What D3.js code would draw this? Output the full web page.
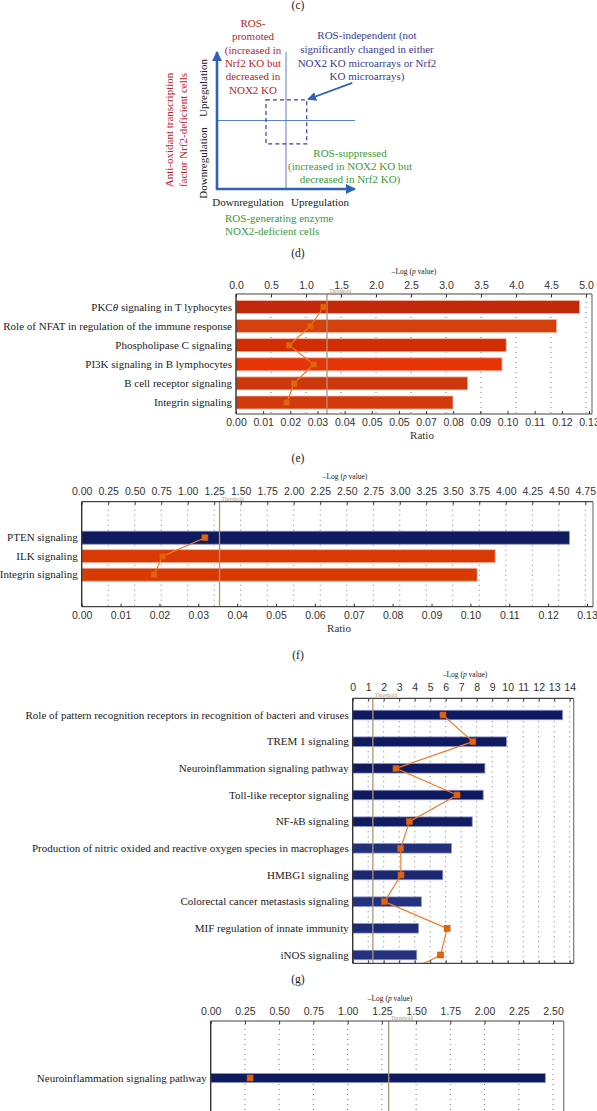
<!DOCTYPE html>
<html><head><meta charset="utf-8">
<script src="https://cdn.jsdelivr.net/npm/d3@7"></script>
<style>body{margin:0;background:#fff}svg{display:block;font-family:"Liberation Serif","DejaVu Serif",serif}</style>
</head><body><svg id="c" width="597" height="1111"></svg>
<script>
// ---------------- DATA ----------------
const threshold = 1.3;

const eCategories = ["PKC_θ_ signaling in T lyphocytes", "Role of NFAT in regulation of the immune response", "Phospholipase C signaling", "PI3K signaling in B lymphocytes", "B cell receptor signaling", "Integrin signaling"];
const eLogP = [4.91, 4.58, 3.86, 3.80, 3.31, 3.10];
const eRatio = [0.0323, 0.0274, 0.0196, 0.0286, 0.0214, 0.0187];
const eColors = ["#c4280a", "#d4400e", "#d22c04", "#e43408", "#cc380c", "#d23a0c"];
const eTopTicks = [0, 0.5, 1.0, 1.5, 2.0, 2.5, 3.0, 3.5, 4.0, 4.5, 5.0];
const eBottomTicks = [0, 0.01, 0.02, 0.03, 0.04, 0.05, 0.06, 0.07, 0.08, 0.09, 0.10, 0.11, 0.12, 0.13];
const eBottomLabels = ["0.00", "0.01", "0.02", "0.03", "0.04", "0.05", "0.05", "0.07", "0.08", "0.09", "0.10", "0.11", "0.12", "0.13"];

const fCategories = ["PTEN signaling", "ILK signaling", "Integrin signaling"];
const fLogP = [4.60, 3.90, 3.73];
const fRatio = [0.0317, 0.0208, 0.0186];
const fColors = ["#0f1b5e", "#d93a04", "#d93a04"];
const fTopTicks = [0, 0.25, 0.5, 0.75, 1.0, 1.25, 1.5, 1.75, 2.0, 2.25, 2.5, 2.75, 3.0, 3.25, 3.5, 3.75, 4.0, 4.25, 4.5, 4.75];
const fBottomTicks = [0, 0.01, 0.02, 0.03, 0.04, 0.05, 0.06, 0.07, 0.08, 0.09, 0.10, 0.11, 0.12, 0.13];
const fBottomLabels = ["0.00", "0.01", "0.02", "0.03", "0.04", "0.05", "0.06", "0.07", "0.08", "0.09", "0.10", "0.11", "0.12", "0.13"];

const gCategories = ["Role of pattern recognition receptors in recognition of bacteri and viruses", "TREM 1 signaling", "Neuroinflammation signaling pathway", "Toll-like receptor signaling", "NF-_k_B signaling", "Production of nitric oxided and reactive oxygen species in macrophages", "HMBG1 signaling", "Colorectal cancer metastasis signaling", "MIF regulation of innate immunity", "iNOS signaling"];
const gLogP = [13.54, 9.92, 8.53, 8.42, 7.71, 6.37, 5.81, 4.43, 4.25, 4.13];
// last ratio belongs to the next (cropped) pathway below iNOS signaling
const gRatio = [0.0572, 0.0761, 0.0274, 0.0661, 0.0359, 0.0304, 0.0306, 0.0201, 0.0598, 0.0557, 0.0222];
const gColors = ["#101a60", "#101a60", "#101a60", "#101a60", "#121c62", "#22307a", "#1b2870", "#24317e", "#1e2b78", "#24317e"];
const gTopTicks = [0, 1, 2, 3, 4, 5, 6, 7, 8, 9, 10, 11, 12, 13, 14];

const hCategories = ["Neuroinflammation signaling pathway"];
const hLogP = [2.444];
const hRatio = [0.0115];
const hColors = ["#0f1b5e"];
const hTopTicks = [0, 0.25, 0.5, 0.75, 1.0, 1.25, 1.5, 1.75, 2.0, 2.25, 2.5];

// ---------------- DRAW ----------------
const svg = d3.select("#c");
svg.append("rect").attr("width", 597).attr("height", 1111).attr("fill", "#fff");
const defs = svg.append("defs");

function richText(sel, str) {
  str.split("_").forEach((part, i) => {
    if (!part) return;
    sel.append("tspan").attr("font-style", i % 2 ? "italic" : null).text(part);
  });
}
function logTitle(x, y) {
  const t = svg.append("text").attr("x", x).attr("y", y).attr("text-anchor", "middle")
    .attr("font-size", 7.5).attr("fill", "#222");
  richText(t, "–Log (_p_ value)");
}
function panelLabel(txt, y) {
  svg.append("text").attr("x", 298).attr("y", y).attr("text-anchor", "middle")
    .attr("font-size", 11.5).attr("fill", "#222").text(txt);
}
const isBlue = c => c.startsWith("#0") || c.startsWith("#1") || c.startsWith("#2");

function panel(o) {
  const g = svg.append("g");
  const x = d3.scaleLinear().domain([0, o.logMax]).range([o.left, o.logRight]);
  const xr = d3.scaleLinear().domain([0, o.ratioMax]).range([o.left, o.ratioRight]);
  const y = o.cats.length > 1 ? d3.scalePoint().domain(o.cats).range(o.yRange)
                              : d3.scalePoint().domain(o.cats).range([o.yRange[0], o.yRange[0]]);
  const step = o.cats.length > 1 ? y.step() : 0;
  const yi = i => i < o.cats.length ? y(o.cats[i]) : y(o.cats[o.cats.length - 1]) + step * (i - o.cats.length + 1);
  const clipId = "clip" + o.name;
  defs.append("clipPath").attr("id", clipId).append("rect")
    .attr("x", o.left).attr("y", o.top).attr("width", o.boxRight - o.left).attr("height", o.bottom - o.top);

  // dotted grid
  g.append("g").selectAll("line").data(o.topTicks.filter(d => d > 0)).join("line")
    .attr("x1", d => x(d)).attr("x2", d => x(d)).attr("y1", o.top + 3).attr("y2", o.bottom)
    .attr("stroke", "#555").attr("stroke-width", 0.8).attr("stroke-dasharray", "1,4");

  // bars
  g.append("g").selectAll("rect").data(o.cats).join("rect")
    .attr("x", x(0)).attr("y", d => y(d) - o.barH / 2)
    .attr("width", (d, i) => x(o.logP[i]) - x(0)).attr("height", o.barH)
    .attr("fill", (d, i) => o.colors[i])
    .attr("stroke", (d, i) => isBlue(o.colors[i]) ? "#8a93c8" : "#f2b8a4")
    .attr("stroke-width", 0.8);

  // threshold
  g.append("line").attr("x1", x(threshold)).attr("x2", x(threshold)).attr("y1", o.top).attr("y2", o.bottom)
    .attr("stroke", "#a8987a").attr("stroke-width", 1.3);
  g.append("text").attr("x", x(threshold) + 2).attr("y", o.top - 1).attr("font-size", 5.5)
    .attr("fill", "#a8987a").text("Threshold");

  // ratio line
  const pts = o.ratio.map((r, i) => [xr(r), yi(i)]);
  const rg = g.append("g").attr("clip-path", `url(#${clipId})`);
  if (pts.length > 1) {
    rg.append("path").attr("d", d3.line()(pts)).attr("fill", "none")
      .attr("stroke", "#f07c2c").attr("stroke-width", 1.2);
  }
  rg.selectAll("rect").data(pts.filter((p, i) => i < o.cats.length)).join("rect")
    .attr("x", d => d[0] - 3).attr("y", d => d[1] - 3).attr("width", 6).attr("height", 6)
    .attr("fill", "#e2640c").attr("stroke", "#c85408").attr("stroke-width", 0.6);

  // box lines
  const line = (x1, y1, x2, y2, c, w) => g.append("line").attr("x1", x1).attr("y1", y1).attr("x2", x2).attr("y2", y2)
    .attr("stroke", c).attr("stroke-width", w);
  line(o.left, o.top, o.boxRight, o.top, "#444", 1.2);
  line(o.left, o.top, o.left, o.bottom, "#333", 1.4);
  line(o.boxRight, o.top, o.boxRight, o.bottom, "#777", 1.2);
  if (o.bottomLine) line(o.left, o.bottom, o.boxRight, o.bottom, "#444", 1.2);

  // top axis
  const ta = g.append("g").attr("transform", `translate(0,${o.top})`)
    .call(d3.axisTop(x).tickValues(o.topTicks).tickFormat(d3.format(o.topFmt)).tickSize(-3).tickSizeOuter(0).tickPadding(o.topPad));
  ta.select(".domain").remove();
  ta.selectAll("line").attr("stroke", "#333");
  ta.selectAll("text").attr("font-size", 10.5).attr("fill", "#333").attr("font-family", null);

  // bottom axis
  if (o.bottomTicks) {
    const ba = g.append("g").attr("transform", `translate(0,${o.bottom})`)
      .call(d3.axisBottom(xr).tickValues(o.bottomTicks).tickFormat((d, i) => o.bottomLabels[i]).tickSize(-3).tickSizeOuter(0).tickPadding(5));
    ba.select(".domain").remove();
    ba.selectAll("line").attr("stroke", "#333");
    ba.selectAll("text").attr("font-size", 10.5).attr("fill", "#333").attr("font-family", null);
    g.append("text").attr("x", o.ratioTitleX).attr("y", o.bottom + 25).attr("text-anchor", "middle")
      .attr("font-size", 11).attr("fill", "#333").text("Ratio");
  } else if (o.bottomLine) {
    const ba = g.append("g").attr("transform", `translate(0,${o.bottom})`)
      .call(d3.axisBottom(x).tickValues(o.topTicks).tickFormat("").tickSize(-3).tickSizeOuter(0));
    ba.select(".domain").remove();
    ba.selectAll("line").attr("stroke", "#333");
  }

  // category labels
  g.append("g").selectAll("text").data(o.cats).join("text")
    .attr("x", o.left - 4).attr("y", d => y(d)).attr("dy", "0.33em").attr("text-anchor", "end")
    .attr("font-size", o.labelSize).attr("fill", "#222")
    .each(function (d) { richText(d3.select(this), d); });

  logTitle(o.titleX, o.titleY);
}

// ---------- panel (c) diagram ----------
panelLabel("(c)", 9);
const dxs = d3.scaleLinear().domain([-1, 1]).range([217, 355]);
const dys = d3.scaleLinear().domain([-1, 1]).range([189, 52]);
const blue = "#2d62b6";
defs.append("marker").attr("id", "ah").attr("viewBox", "0 0 10 10").attr("refX", 9).attr("refY", 5)
  .attr("markerWidth", 4).attr("markerHeight", 4).attr("orient", "auto")
  .append("path").attr("d", "M0,0 L10,5 L0,10 z").attr("fill", blue);
defs.append("marker").attr("id", "ah2").attr("viewBox", "0 0 10 10").attr("refX", 9).attr("refY", 5)
  .attr("markerWidth", 5).attr("markerHeight", 5).attr("orient", "auto")
  .append("path").attr("d", "M0,0 L10,5 L0,10 z").attr("fill", blue);
const dg = svg.append("g");
dg.append("line").attr("x1", dxs(0)).attr("x2", dxs(0)).attr("y1", dys(-1)).attr("y2", dys(1)).attr("stroke", "#5a82c8").attr("stroke-width", 1);
dg.append("line").attr("x1", dxs(-1)).attr("x2", dxs(1)).attr("y1", dys(0)).attr("y2", dys(0)).attr("stroke", "#5a82c8").attr("stroke-width", 1);
dg.append("line").attr("x1", dxs(-1)).attr("x2", dxs(-1)).attr("y1", dys(-1) + 1).attr("y2", dys(1))
  .attr("stroke", blue).attr("stroke-width", 2.6).attr("marker-end", "url(#ah)");
dg.append("line").attr("x1", dxs(-1) - 1).attr("x2", dxs(1)).attr("y1", dys(-1)).attr("y2", dys(-1))
  .attr("stroke", blue).attr("stroke-width", 2.6).attr("marker-end", "url(#ah)");
dg.append("rect").attr("x", dxs(-0.29)).attr("y", dys(0.3)).attr("width", dxs(0.3) - dxs(-0.29)).attr("height", dys(-0.34) - dys(0.3))
  .attr("fill", "none").attr("stroke", "#3a3f96").attr("stroke-width", 1.2).attr("stroke-dasharray", "4,3");
dg.append("line").attr("x1", dxs(0.96)).attr("y1", dys(0.55)).attr("x2", dxs(0.32)).attr("y2", dys(0.31))
  .attr("stroke", blue).attr("stroke-width", 1.8).attr("marker-end", "url(#ah2)");

function lines(arr, cx, y0, lh, color, anchor) {
  arr.forEach((s, i) => svg.append("text").attr("x", cx).attr("y", y0 + i * lh).attr("text-anchor", anchor || "middle")
    .attr("font-size", 11).attr("fill", color).text(s));
}
const red = "#b5262c", navy = "#3a3c8e", green = "#3b9a3b";
lines(["ROS-", "promoted", "(increased in", "Nrf2 KO but", "decreased in", "NOX2 KO"], 253, 27, 13.3, red);
lines(["ROS-independent (not", "significantly changed in either", "NOX2 KO microarrays or Nrf2", "KO microarrays)"], 367, 39, 13.8, navy);
lines(["ROS-suppressed", "(increased in NOX2 KO but", "decreased in Nrf2 KO)"], 350, 157, 13, green);
lines(["ROS-generating enzyme", "NOX2-deficient cells"], 225, 222, 12.5, green, "start");
svg.append("text").attr("x", 248).attr("y", 206).attr("text-anchor", "middle").attr("font-size", 11).attr("fill", "#222").text("Downregulation");
svg.append("text").attr("x", 320).attr("y", 206).attr("text-anchor", "middle").attr("font-size", 11).attr("fill", "#222").text("Upregulation");
function vtext(s, x, y, color) {
  svg.append("text").attr("transform", `translate(${x},${y}) rotate(-90)`).attr("text-anchor", "middle")
    .attr("dy", "0.35em").attr("font-size", 11).attr("fill", color).text(s);
}
vtext("Upregulation", 203, 88, "#222");
vtext("Downregulation", 203, 163, "#222");
vtext("Anti-oxidant transcription", 169, 130, red);
vtext("factor Nrf2-deficient cells", 183, 130, red);
panelLabel("(d)", 257);

// ---------- panel (e) ----------
panel({
  name: "e", cats: eCategories, logP: eLogP, ratio: eRatio, colors: eColors,
  logMax: 5, ratioMax: 0.13, left: 236, logRight: 586, ratioRight: 589, boxRight: 592,
  top: 294, bottom: 414, yRange: [307, 402.5], barH: 13, topTicks: eTopTicks, topFmt: ".1f", topPad: 5,
  bottomTicks: eBottomTicks, bottomLabels: eBottomLabels, ratioTitleX: 422, labelSize: 11,
  titleX: 414, titleY: 274, bottomLine: true
});
panelLabel("(e)", 462);

// ---------- panel (f) ----------
panel({
  name: "f", cats: fCategories, logP: fLogP, ratio: fRatio, colors: fColors,
  logMax: 4.75, ratioMax: 0.13, left: 81.7, logRight: 585.3, ratioRight: 587, boxRight: 593,
  top: 501.7, bottom: 606.7, yRange: [537.7, 574.7], barH: 13, topTicks: fTopTicks, topFmt: ".2f", topPad: 7,
  bottomTicks: fBottomTicks, bottomLabels: fBottomLabels, ratioTitleX: 339, labelSize: 11,
  titleX: 345, titleY: 478.5, bottomLine: true
});
panelLabel("(f)", 659);

// ---------- panel (g) ----------
panel({
  name: "g", cats: gCategories, logP: gLogP, ratio: gRatio, colors: gColors,
  logMax: 14, ratioMax: 0.14, left: 352.7, logRight: 569.7, ratioRight: 573.7, boxRight: 573.7,
  top: 698.3, bottom: 963.3, yRange: [715, 955], barH: 9.5, topTicks: gTopTicks, topFmt: "d", topPad: 7,
  labelSize: 11, titleX: 465, titleY: 676.5, bottomLine: true
});
panelLabel("(g)", 983);

// ---------- panel (h) ----------
panel({
  name: "h", cats: hCategories, logP: hLogP, ratio: hRatio, colors: hColors,
  logMax: 2.5, ratioMax: 0.10, left: 210.7, logRight: 553, ratioRight: 553, boxRight: 563.7,
  top: 1021, bottom: 1112, yRange: [1078, 1078], barH: 9, topTicks: hTopTicks, topFmt: ".2f", topPad: 6,
  labelSize: 11, titleX: 390, titleY: 1000.5, bottomLine: false
});
</script></body></html>
